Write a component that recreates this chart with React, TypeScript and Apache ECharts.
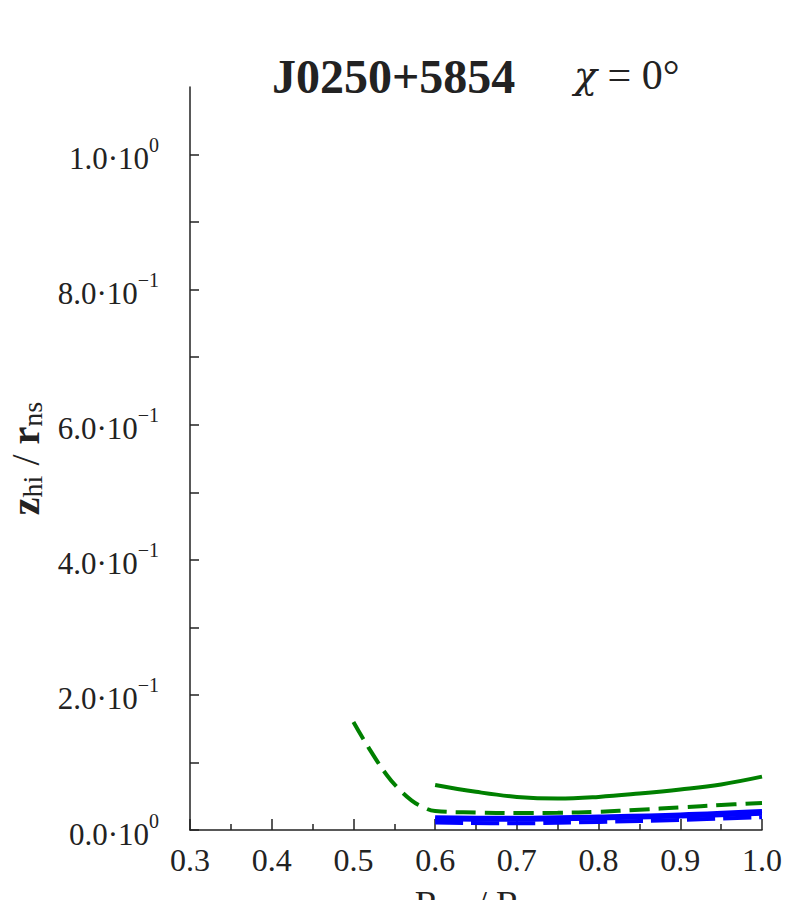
import React, { useEffect, useRef } from "react";
import * as echarts from "echarts";

const FONT = "Liberation Serif";

const greenSolidX = [0.6, 0.65, 0.7, 0.75, 0.8, 0.85, 0.9, 0.95, 1.0];
const greenSolidY = [0.0666, 0.0565, 0.049, 0.0465, 0.049, 0.054, 0.06, 0.0675, 0.079];

const greenDashX = [0.5, 0.518, 0.541, 0.557, 0.571, 0.584, 0.6, 0.65, 0.7, 0.75, 0.8, 0.85, 0.9, 0.95, 1.0];
const greenDashY = [0.16, 0.123, 0.081, 0.059, 0.044, 0.0345, 0.028, 0.026, 0.0251, 0.0255, 0.027, 0.03, 0.0335, 0.037, 0.04];

const blueX = [0.6, 0.7, 0.8, 0.9, 1.0];
const blueSolidAY = [0.019, 0.018, 0.02, 0.023, 0.028];
const blueSolidBY = [0.016, 0.015, 0.017, 0.02, 0.024];
const blueDashY = [0.011, 0.01, 0.012, 0.015, 0.019];

const yTickValues = [0, 0.1, 0.2, 0.3, 0.4, 0.5, 0.6, 0.7, 0.8, 0.9, 1.0];
const yLabelValues = [0, 0.2, 0.4, 0.6, 0.8, 1.0];
const yLabelMant = ["0.0", "2.0", "4.0", "6.0", "8.0", "1.0"];
const yLabelExp = ["0", "−1", "−1", "−1", "−1", "0"];

const titleName = "J0250+5854";
const titleChi = "= 0°";

const zip = (xs: number[], ys: number[]) => xs.map((x, i) => [x, ys[i]]);

export default function App() {
  const ref = useRef<HTMLDivElement>(null);
  useEffect(() => {
    if (!ref.current) return;
    const chart = echarts.init(ref.current, null, { renderer: "svg" });
    const line = (name: string, data: number[][], color: string, type: any, width = 4) => ({
      name,
      type: "line",
      data,
      showSymbol: false,
      smooth: 0.4,
      lineStyle: { color, width, type },
      z: 3,
    });
    chart.setOption({
      animation: false,
      backgroundColor: "#ffffff",
      grid: { left: 190, right: 42, top: 87, bottom: 70, containLabel: false, outerBoundsMode: "none" },
      xAxis: {
        type: "value",
        min: 0.3,
        max: 1.0,
        interval: 0.1,
        name: "{r|R}{s|em}{n| / }{r|R}{s|lc}",
        nameLocation: "middle",
        nameGap: 56,
        nameTextStyle: {
          rich: {
            r: { fontFamily: FONT, fontSize: 36, color: "#222" },
            n: { fontFamily: FONT, fontSize: 36, color: "#222" },
            s: { fontFamily: FONT, fontSize: 24, color: "#222", verticalAlign: "bottom", padding: [12, 0, 0, 0] },
          },
        },
        axisLine: { lineStyle: { color: "#222", width: 1.5 } },
        axisTick: { inside: true, length: 11, lineStyle: { color: "#222", width: 1.5 } },
        minorTick: { show: true, splitNumber: 2, length: 6, lineStyle: { color: "#222", width: 1.5 } },
        splitLine: { show: false },
        axisLabel: {
          margin: 14,
          fontFamily: FONT,
          fontSize: 32,
          color: "#222",
          formatter: (v: number) => v.toFixed(1),
        },
      },
      yAxis: {
        type: "value",
        min: 0,
        max: 1.1,
        name: "{z|z}{s|hi}{n| / }{z|r}{s|ns}",
        nameLocation: "middle",
        nameRotate: 90,
        nameGap: 132,
        nameTextStyle: {
          rich: {
            z: { fontFamily: FONT, fontSize: 40, fontWeight: "bold", color: "#222" },
            n: { fontFamily: FONT, fontSize: 40, color: "#222" },
            s: { fontFamily: FONT, fontSize: 28, color: "#222", verticalAlign: "bottom", padding: [14, 0, 0, 0] },
          },
        },
        axisLine: { show: true, lineStyle: { color: "#222", width: 1.5 } },
        axisTick: {
          inside: true,
          length: 9,
          customValues: yTickValues,
          lineStyle: { color: "#222", width: 1.5 },
        },
        splitLine: { show: false },
        axisLabel: {
          margin: 31,
          customValues: yLabelValues,
          formatter: (v: number) => {
            let idx = 0;
            let best = 1e9;
            yLabelValues.forEach((lv, i) => {
              if (Math.abs(lv - v) < best) {
                best = Math.abs(lv - v);
                idx = i;
              }
            });
            return `{m|${yLabelMant[idx]}·10}{e|${yLabelExp[idx]}}`;
          },
          rich: {
            m: { fontFamily: FONT, fontSize: 31, color: "#222", padding: [8, 0, 0, 0] },
            e: { fontFamily: FONT, fontSize: 20, color: "#222", verticalAlign: "top", padding: [0, 0, 10, 0] },
          },
        },
      },
      graphic: [
        {
          type: "text",
          left: 272,
          top: 52,
          style: {
            text: titleName,
            fontFamily: FONT,
            fontWeight: "bold",
            fontSize: 48,
            fill: "#222",
          },
        },
        {
          type: "text",
          left: 574,
          top: 54,
          style: {
            text: `{i|χ} ${titleChi}`,
            fontFamily: FONT,
            fontSize: 42,
            fill: "#222",
            rich: {
              i: { fontFamily: "DejaVu Serif", fontStyle: "italic", fontSize: 38, fill: "#222" },
            },
          },
        },
      ],
      series: [
        line("green solid", zip(greenSolidX, greenSolidY), "#008000", "solid"),
        line("green dashed", zip(greenDashX, greenDashY), "#008000", [20, 9]),
        line("blue dashed", zip(blueX, blueDashY), "#0000ff", [28, 8]),
        line("blue solid B", zip(blueX, blueSolidBY), "#0000ff", "solid"),
        line("blue solid A", zip(blueX, blueSolidAY), "#0000ff", "solid"),
      ],
    });
    return () => chart.dispose();
  }, []);
  return <div ref={ref} style={{ width: 804, height: 900, position: "absolute", left: 0, top: 0 }} />;
}
